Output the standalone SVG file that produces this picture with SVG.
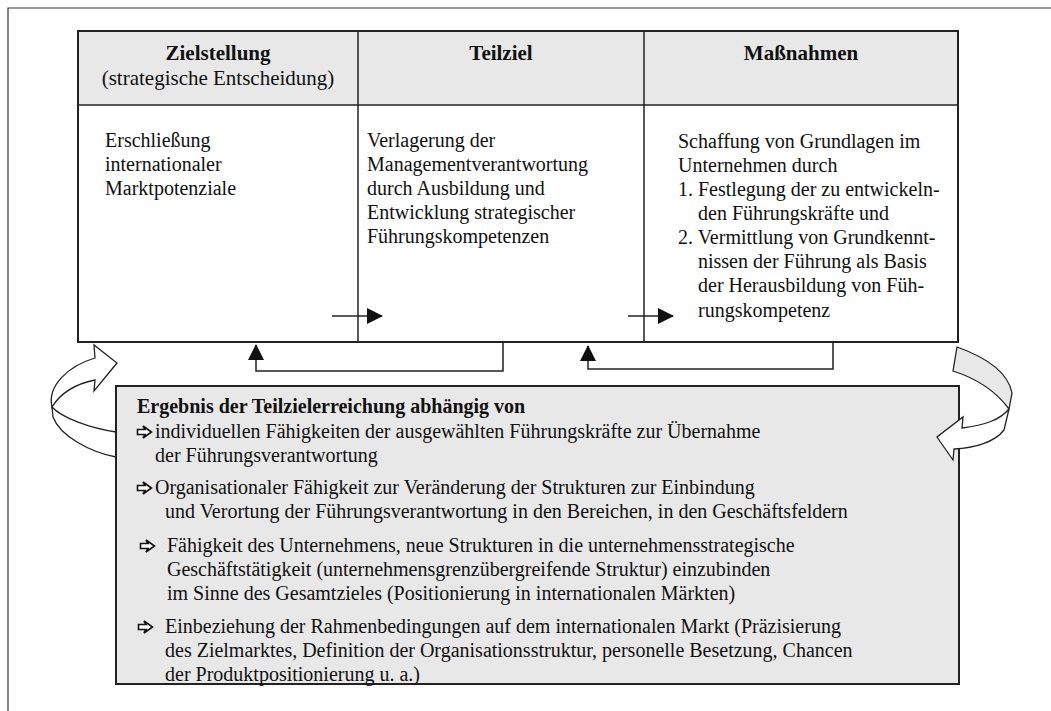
<svg xmlns="http://www.w3.org/2000/svg" width="1051" height="711" viewBox="0 0 1051 711">
<defs>
<style>
text{font-family:"Liberation Serif","Times New Roman",serif;font-size:20px;fill:#111}
.b{font-weight:bold}
.m{text-anchor:middle}
.frame{fill:none;stroke:#333;stroke-width:1.2}
.hdr{fill:#e8e8e8;stroke:none}
.tbl{fill:none;stroke:#222;stroke-width:2}
.div{fill:none;stroke:#222;stroke-width:1.5}
.con{fill:none;stroke:#222;stroke-width:1.5}
.box{fill:#e8e8e8;stroke:#222;stroke-width:2}
.band{fill:#e8e8e8;stroke:#222;stroke-width:1.3}
.warr{fill:#fff;stroke:#222;stroke-width:1.3}
.bul{fill:#fff;stroke:#111;stroke-width:1.6;stroke-linejoin:miter}
</style>
<marker id="ah" viewBox="0 0 16 16" refX="15" refY="8" markerWidth="16" markerHeight="16" markerUnits="userSpaceOnUse" orient="auto">
<path d="M0,0 L16,8 L0,16 Z" fill="#111"/>
</marker>
<path id="bullet" d="M0.5,-2.5 L8,-2.5 L6,-6 L14.5,0 L6,6 L8,2.5 L0.5,2.5 Z"/>
</defs>
<rect width="1051" height="711" fill="#fff"/>
<g id="frame">
<path class="frame" d="M8,711 L8,8 L1051,8"/>
</g>

<g id="left-cycle-arrow">
<path class="band" style="fill:#fff" d="M116,432 C 90,428 62,418 52,407 L 53,417 C 60,436 90,452 116,457 Z"/>
<path class="warr" d="M52,407 C 47,386 68,366 95,358 L 94,345 L 117,363 L 94,391 L 95,380 C 75,384 60,394 52,407 Z"/>
</g>
<g id="right-cycle-arrow">
<path class="band" d="M957,347 C 985,357 1008,372 1012,393 L 1009,409 C 995,390 975,378 953,371 Z"/>
</g>

<g id="table">
<rect class="hdr" x="78" y="31" width="880" height="74"/>
<rect x="78" y="105" width="880" height="237" fill="#fff"/>
<line class="div" x1="78" y1="105" x2="958" y2="105"/>
<line class="div" x1="358" y1="31" x2="358" y2="342"/>
<line class="div" x1="644" y1="31" x2="644" y2="342"/>
<rect class="tbl" x="78" y="31" width="880" height="311"/>
</g>

<g id="col-zielstellung">
<text class="b m" x="218" y="60" style="font-size:21px">Zielstellung</text>
<text class="m" x="218" y="85" style="font-size:21px">(strategische Entscheidung)</text>
<text x="105" y="147">Erschließung</text>
<text x="105" y="171">internationaler</text>
<text x="105" y="195">Marktpotenziale</text>
</g>
<g id="col-teilziel">
<text class="b m" x="501" y="60" style="font-size:21px">Teilziel</text>
<text x="367" y="147">Verlagerung der</text>
<text x="367" y="171">Managementverantwortung</text>
<text x="367" y="195">durch Ausbildung und</text>
<text x="367" y="219">Entwicklung strategischer</text>
<text x="367" y="243">Führungskompetenzen</text>
</g>
<g id="col-massnahmen">
<text class="b m" x="801" y="60" style="font-size:21px">Maßnahmen</text>
<text x="678" y="148">Schaffung von Grundlagen im</text>
<text x="678" y="172">Unternehmen durch</text>
<text x="678" y="196">1. Festlegung der zu entwickeln-</text>
<text x="698" y="220">den Führungskräfte und</text>
<text x="678" y="244">2. Vermittlung von Grundkennt-</text>
<text x="698" y="268">nissen der Führung als Basis</text>
<text x="698" y="292">der Herausbildung von Füh-</text>
<text x="698" y="317">rungskompetenz</text>
</g>

<g id="connectors">
<line class="con" x1="332" y1="316" x2="382" y2="316" marker-end="url(#ah)"/>
<line class="con" x1="628" y1="316" x2="673" y2="316" marker-end="url(#ah)"/>
<polyline class="con" points="503,342 503,371 256,371 256,345" marker-end="url(#ah)"/>
<polyline class="con" points="833,342 833,369 588,369 588,346" marker-end="url(#ah)"/>
</g>

<g id="result-box">
<rect class="box" x="116" y="386" width="843" height="298"/>
<text class="b" x="137" y="413">Ergebnis der Teilzielerreichung abhängig von</text>
<use href="#bullet" class="bul" x="137" y="432"/>
<text x="155" y="438">individuellen Fähigkeiten der ausgewählten Führungskräfte zur Übernahme</text>
<text x="155" y="462">der Führungsverantwortung</text>
<use href="#bullet" class="bul" x="137" y="488"/>
<text x="155" y="494">Organisationaler Fähigkeit zur Veränderung der Strukturen zur Einbindung</text>
<text x="165" y="518">und Verortung der Führungsverantwortung in den Bereichen, in den Geschäftsfeldern</text>
<use href="#bullet" class="bul" x="140" y="546"/>
<text x="167" y="552">Fähigkeit des Unternehmens, neue Strukturen in die unternehmensstrategische</text>
<text x="167" y="576">Geschäftstätigkeit (unternehmensgrenzübergreifende Struktur) einzubinden</text>
<text x="167" y="600">im Sinne des Gesamtzieles (Positionierung in internationalen Märkten)</text>
<use href="#bullet" class="bul" x="138" y="627"/>
<text x="165" y="633">Einbeziehung der Rahmenbedingungen auf dem internationalen Markt (Präzisierung</text>
<text x="165" y="657">des Zielmarktes, Definition der Organisationsstruktur, personelle Besetzung, Chancen</text>
<text x="165" y="681">der Produktpositionierung u. a.)</text>
</g>

<g id="right-cycle-arrowhead">
<path class="warr" d="M1009,409 L 1004,430 C 995,442 975,448 954,449 L 953,460 L 937,437 L 963,417 L 962,428 C 985,425 1000,420 1009,409 Z"/>
</g>
</svg>
